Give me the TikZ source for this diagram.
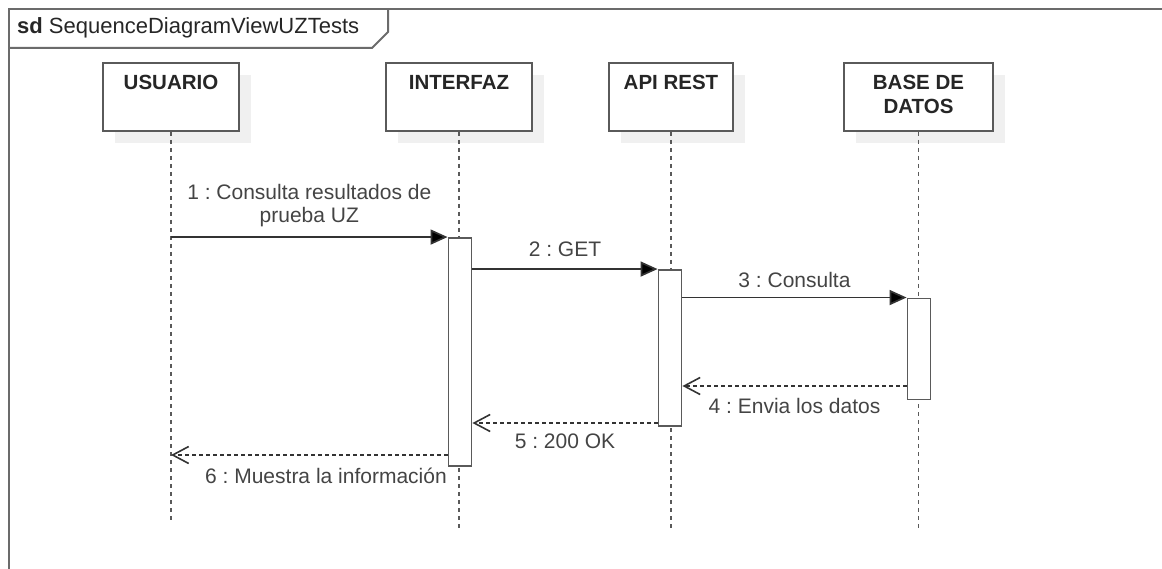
\documentclass[tikz,border=0pt]{standalone}
\usepackage{fontspec}
\setmainfont{Liberation Sans}
\frenchspacing
\usetikzlibrary{arrows.meta,positioning,shadows}
\definecolor{linegray}{HTML}{5A5A5A}
\definecolor{textgray}{HTML}{444444}
\definecolor{shadowgray}{HTML}{F0F0F0}
\tikzset{
  frame/.style={draw=linegray!90, line width=2pt},
  actor/.style={draw=linegray, line width=2pt, fill=white, minimum height=68pt, inner sep=0pt,
    drop shadow={shadow xshift=12pt, shadow yshift=-12pt, fill=shadowgray, opacity=1}},
  actorname/.style={font=\fontsize{20.5}{23.5}\selectfont\bfseries, text=black!85, align=center, inner sep=0pt, anchor=north},
  bar/.style={draw=linegray, line width=1.9pt, fill=white, minimum width=23pt, inner sep=0pt},
  life/.style={draw=linegray, line width=1.6pt, dash pattern=on 4pt off 4pt},
  msg/.style={draw=black!80, line width=1.7pt, -{Triangle[length=17pt,width=15pt,fill=black]}},
  ret/.style={draw=black!80, line width=1.6pt, dash pattern=on 4pt off 3pt, -{Straight Barb[length=16pt,width=17pt]}},
  lbl/.style={font=\fontsize{21}{23}\selectfont, text=textgray, inner sep=0pt, align=center}
}
\begin{document}
\begin{tikzpicture}[x=1pt,y=-1pt]
\useasboundingbox (0,0) rectangle (1162,569);
\draw[frame] (1170,9) -- (9,9) -- (9,575);
\draw[frame] (9,48) -- (372,48) -- (388,32) -- (388,9);
\node[anchor=west, font=\fontsize{22}{24}\selectfont, text=black!85, inner sep=0pt] (title) at (17,28) {\textbf{sd}\ SequenceDiagramViewUZTests};

\node[actor, minimum width=136pt] (usr) at (171,97) {};
\node[actor, minimum width=146pt] (gui) at (459,97) {};
\node[actor, minimum width=124pt] (api) at (671,97) {};
\node[actor, minimum width=149pt] (db) at (918.5,97) {};
\node[actorname, below=13pt of usr.north] {USUARIO};
\node[actorname, below=13pt of gui.north] {INTERFAZ};
\node[actorname, below=13pt of api.north] {API REST};
\node[actorname, below=13pt of db.north] {BASE DE\\DATOS};

\draw[life] (usr.south) -- (usr |- 0,520);
\draw[life] (gui.south) -- (gui |- 0,530);
\draw[life] (api.south) -- (api |- 0,530);
\draw[life] (db.south) -- (db |- 0,530);

\node[bar, minimum height=228pt] (barGui) at (460,352) {};
\node[bar, minimum height=156pt] (barApi) at (670,348) {};
\node[bar, minimum height=101pt] (barDb) at (919,349) {};

\draw[msg] (usr |- barGui.north) -- (barGui.north west) node[lbl, midway, above=9pt] {1 : Consulta resultados de\\prueba UZ};
\draw[msg] (barGui.east |- barApi.north) -- (barApi.north west) node[lbl, midway, above=11pt] {2 : GET};
\draw[msg] (barApi.east |- barDb.north) -- (barDb.north west) node[lbl, midway, above=9pt] {3 : Consulta};
\draw[ret] (barDb.west |- 0,386) -- (barApi.east |- 0,386) node[lbl, midway, below=11pt] {4 : Envia los datos};
\draw[ret] (barApi.west |- 0,423) -- (barGui.east |- 0,423) node[lbl, midway, below=10pt] {5 : 200 OK};
\draw[ret] (barGui.west |- 0,455) -- (usr |- 0,455) node[lbl, at start, below left=12pt and 0pt] {6 : Muestra la información};
\end{tikzpicture}
\end{document}
